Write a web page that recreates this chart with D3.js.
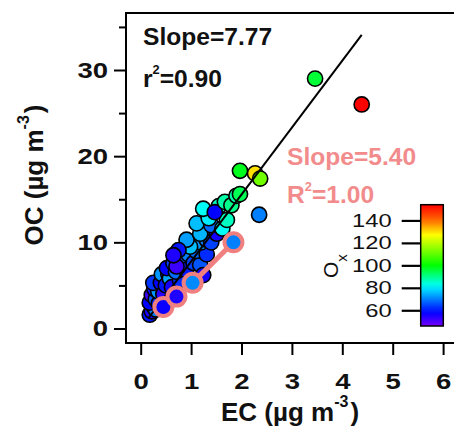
<!DOCTYPE html>
<html>
<head>
<meta charset="utf-8">
<script src="https://cdn.jsdelivr.net/npm/d3@7"></script>
<style>
body { margin: 0; background: white; }
svg { display: block; }
</style>
</head>
<body>
<div id="wrapper"></div>
<script>
// all samples: EC, OC (ug m-3) and Ox colour value
var ecValues = [0.18,0.22,0.25,0.30,0.18,0.22,0.30,0.36,0.27,0.35,0.25,0.40,0.45,0.42,0.50,0.55,0.58,0.52,0.62,0.65,
                0.78,0.70,0.82,0.90,0.95,1.05,1.18,1.24,1.10,1.31,1.20,1.31,1.40,1.51,0.98,0.91,0.75,0.71,0.65,1.18,
                1.11,1.40,1.62,1.71,1.35,1.24,1.55,1.47,1.67,1.80,1.90,1.97,2.35,2.27,2.37,1.97,3.46,4.385];
var ocValues = [1.6,2.0,2.6,2.2,3.0,3.9,3.4,2.9,4.6,4.3,5.3,5.3,4.0,6.3,5.0,6.3,5.8,7.0,4.8,7.6,
                5.6,6.6,8.0,6.8,8.6,7.6,7.4,6.2,9.0,8.6,10.0,10.3,10.0,11.0,9.5,10.3,9.1,7.2,8.5,11.0,
                12.2,12.0,11.6,12.6,12.8,13.9,14.2,13.5,14.7,14.3,15.4,15.6,13.2,18.0,17.4,18.3,29.0,26.0];
var oxValues = [60,55,64,70,58,52,66,62,60,72,63,58,54,72,60,66,74,58,56,64,
                62,68,66,60,70,64,66,56,68,62,72,70,64,56,76,73,60,52,55,75,
                76,68,82,86,80,82,86,58,88,90,88,94,70,130,112,98,96,154];

// the four highlighted samples
var ecPink = [0.45, 0.71, 1.03, 1.84];
var ocPink = [2.5, 3.7, 5.3, 10.0];
var oxPink = [57, 55, 71, 70];

// fits
var slopeAll = 7.77, r2All = 0.90;
var fitRange = [0.15, 4.385];
var slopePink = 5.40, r2Pink = 1.00;

var xTicks = [0, 1, 2, 3, 4, 5, 6];
var yTicks = [0, 10, 20, 30];
var yMinorTicks = [5, 15, 25, 35];
var oxTicks = [60, 80, 100, 120, 140];
var oxRange = [46, 154];

function create(){
    const font = "'Liberation Sans', Arial, Helvetica, sans-serif";
    const pink = "#f08080";
    const sx = 1.25;   // digits look wide in the original

    const svg = d3.select("#wrapper")
        .append("svg")
        .attr("width", 454)
        .attr("height", 430)
        .style("background", "white")
        .attr("font-family", font);

    var x = d3.scaleLinear().domain([0, 6]).range([140.7, 443.1]);
    var y = d3.scaleLinear().domain([0, 30]).range([328.5, 70]);
    var cb = d3.scaleLinear().domain(oxRange).range([326, 204.7]);

    // rainbow: violet (low) -> red (high)
    const hue = d3.scaleLinear()
        .domain([46, 60, 80, 100, 128, 140, 154])
        .range([268, 235, 185, 120, 58, 25, 0])
        .clamp(true);
    const oxColor = v => d3.hsl(hue(v), 1, 0.5).toString();

    // frame
    svg.append("rect")
        .attr("x", 126).attr("y", 13)
        .attr("width", 345).attr("height", 330)
        .attr("fill", "none")
        .attr("stroke", "black")
        .attr("stroke-width", 2);

    // Y axis
    var yAxis = svg.append("g")
        .attr("transform", "translate(126,0)")
        .call(d3.axisLeft(y).tickValues(yTicks).tickSize(12).tickPadding(6).tickFormat(d3.format("d")));
    yAxis.select(".domain").remove();
    yAxis.attr("font-size", 22).attr("font-family", font).attr("font-weight", "bold");
    yAxis.selectAll("line").attr("stroke-width", 2);
    yAxis.selectAll("text")
        .attr("fill", "#111")
        .attr("x", -18 / sx)
        .attr("transform", "scale(" + sx + ",1)");

    var yMinor = svg.append("g")
        .attr("transform", "translate(126,0)")
        .call(d3.axisLeft(y).tickValues(yMinorTicks).tickSize(7).tickFormat(""));
    yMinor.select(".domain").remove();
    yMinor.selectAll("line").attr("stroke-width", 2);

    // X axis
    var xAxis = svg.append("g")
        .attr("transform", "translate(0,343)")
        .call(d3.axisBottom(x).tickValues(xTicks).tickSize(12).tickPadding(18).tickFormat(d3.format("d")));
    xAxis.select(".domain").remove();
    xAxis.attr("font-size", 22).attr("font-family", font).attr("font-weight", "bold");
    xAxis.selectAll("line").attr("stroke-width", 2);
    xAxis.selectAll("text")
        .attr("fill", "#111")
        .attr("transform", "scale(" + sx + ",1)");

    // axis titles
    var xt = svg.append("text")
        .attr("x", 290).attr("y", 421)
        .attr("text-anchor", "middle")
        .attr("font-size", 26).attr("font-weight", "bold").attr("fill", "#111");
    xt.append("tspan").text("EC (\u00b5g m");
    xt.append("tspan").attr("font-size", 16).attr("dy", -14).text("-3");
    xt.append("tspan").attr("dy", 14).attr("dx", 2).text(")");

    var yt = svg.append("text")
        .attr("transform", "translate(43,175) rotate(-90)")
        .attr("text-anchor", "middle")
        .attr("font-size", 26).attr("font-weight", "bold").attr("fill", "#111");
    yt.append("tspan").text("OC (\u00b5g m");
    yt.append("tspan").attr("font-size", 16).attr("dy", -14).text("-3");
    yt.append("tspan").attr("dy", 14).attr("dx", 2).text(")");

    // Add dots
    svg.append("g")
        .selectAll("circle")
        .data(d3.range(ecValues.length))
        .join("circle")
        .attr("cx", i => x(ecValues[i]))
        .attr("cy", i => y(ocValues[i]))
        .attr("r", 7.6)
        .attr("fill", i => oxColor(oxValues[i]))
        .attr("stroke", "black")
        .attr("stroke-width", 1.6);

    // fit through all samples
    svg.append("line")
        .attr("x1", x(fitRange[0])).attr("y1", y(slopeAll * fitRange[0]))
        .attr("x2", x(fitRange[1])).attr("y2", y(slopeAll * fitRange[1]))
        .attr("stroke", "black")
        .attr("stroke-width", 2);

    // highlighted samples
    svg.append("path")
        .datum(d3.range(ecPink.length))
        .attr("d", d3.line().x(i => x(ecPink[i])).y(i => y(ocPink[i])))
        .attr("fill", "none")
        .attr("stroke", pink)
        .attr("stroke-width", 5);

    svg.append("g")
        .selectAll("circle")
        .data(d3.range(ecPink.length))
        .join("circle")
        .attr("cx", i => x(ecPink[i]))
        .attr("cy", i => y(ocPink[i]))
        .attr("r", 9)
        .attr("fill", i => oxColor(oxPink[i]))
        .attr("stroke", pink)
        .attr("stroke-width", 4);

    // annotations
    svg.append("text")
        .attr("transform", "translate(143,45) scale(1.07,1)")
        .attr("font-size", 23).attr("font-weight", "bold").attr("fill", "#111")
        .text("Slope=" + slopeAll.toFixed(2));
    var t2 = svg.append("text")
        .attr("transform", "translate(143,87) scale(1.07,1)")
        .attr("font-size", 23).attr("font-weight", "bold").attr("fill", "#111");
    t2.append("tspan").text("r");
    t2.append("tspan").attr("font-size", 12).attr("dy", -13).text("2");
    t2.append("tspan").attr("dy", 13).text("=" + r2All.toFixed(2));

    svg.append("text")
        .attr("transform", "translate(287,165) scale(1.07,1)")
        .attr("font-size", 23).attr("font-weight", "bold").attr("fill", "#f28c8c")
        .text("Slope=" + slopePink.toFixed(2));
    var t4 = svg.append("text")
        .attr("transform", "translate(287,203) scale(1.07,1)")
        .attr("font-size", 23).attr("font-weight", "bold").attr("fill", "#f28c8c");
    t4.append("tspan").text("R");
    t4.append("tspan").attr("font-size", 12).attr("dy", -12).text("2");
    t4.append("tspan").attr("dy", 12).text("=" + r2Pink.toFixed(2));

    // colour bar
    var grad = svg.append("defs").append("linearGradient")
        .attr("id", "oxGrad")
        .attr("x1", 0).attr("y1", 1).attr("x2", 0).attr("y2", 0);
    grad.selectAll("stop")
        .data(d3.range(0, 1.0001, 0.05))
        .join("stop")
        .attr("offset", t => t)
        .attr("stop-color", t => oxColor(oxRange[0] + t * (oxRange[1] - oxRange[0])));

    svg.append("rect")
        .attr("x", 420.7).attr("y", cb(oxRange[1]))
        .attr("width", 22.6).attr("height", cb(oxRange[0]) - cb(oxRange[1]))
        .attr("fill", "url(#oxGrad)")
        .attr("stroke", "black")
        .attr("stroke-width", 1.5);

    var cAxis = svg.append("g")
        .attr("transform", "translate(420.7,0)")
        .call(d3.axisLeft(cb).tickValues(oxTicks).tickSize(19).tickPadding(10));
    cAxis.select(".domain").remove();
    cAxis.attr("font-size", 19).attr("font-family", font);
    cAxis.selectAll("line").attr("stroke-width", 2.2);
    cAxis.selectAll("text")
        .attr("fill", "#111")
        .attr("x", -29 / sx)
        .attr("transform", "scale(" + sx + ",1)");

    var ot = svg.append("text")
        .attr("transform", "translate(338,278) rotate(-90)")
        .attr("font-size", 21).attr("fill", "#111");
    ot.append("tspan").text("O");
    ot.append("tspan").attr("font-size", 15).attr("dy", 9).text("x");
}
create();
</script>
</body>
</html>
